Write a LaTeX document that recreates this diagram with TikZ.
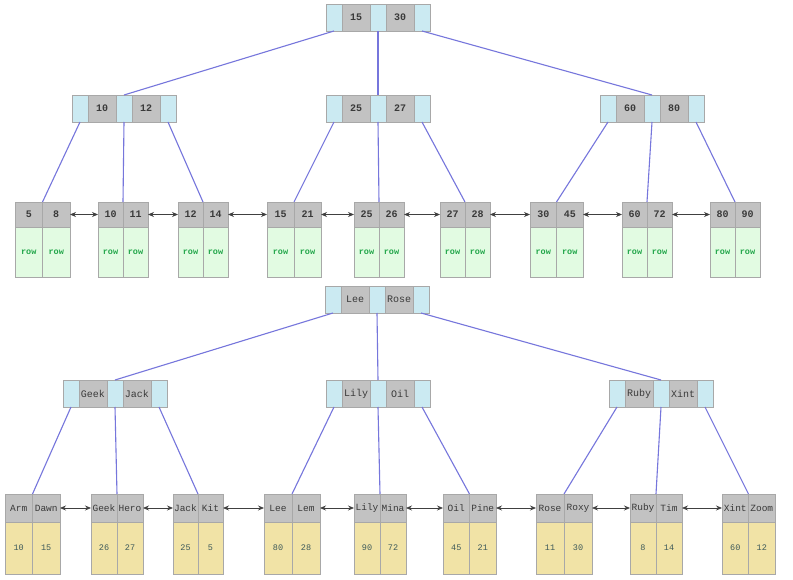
\documentclass[tikz,border=0pt]{standalone}
\usepackage{fontspec}
\setmonofont{Liberation Mono}
\usetikzlibrary{arrows.meta}
\definecolor{ptrblue}{HTML}{CBEAF2}
\definecolor{keygray}{HTML}{C2C2C2}
\definecolor{cellborder}{HTML}{A8A8A8}
\definecolor{rowgreen}{HTML}{E2FBE2}
\definecolor{rowtext}{HTML}{22A64A}
\definecolor{datayellow}{HTML}{F1E3A6}
\definecolor{datatext}{HTML}{3E5A5A}
\definecolor{edgeblue}{HTML}{7676DC}
\definecolor{keytext}{HTML}{3A3A3A}
\definecolor{arrowgray}{HTML}{404040}

% internal node: name, x, y, height, keyA, keyB
\newcommand\inode[6]{%
  \node[pcell,minimum height=#4pt,anchor=north west] (#1-p1) at (#2,#3) {};
  \node[kcell,minimum height=#4pt,anchor=north west] (#1-k1) at (#1-p1.north east) {#5};
  \node[pcell,minimum height=#4pt,anchor=north west] (#1-p2) at (#1-k1.north east) {};
  \node[kcell,minimum height=#4pt,anchor=north west] (#1-k2) at (#1-p2.north east) {#6};
  \node[pcell,minimum height=#4pt,anchor=north west] (#1-p3) at (#1-k2.north east) {};
}
% leaf: name, x, y, cell width, key1, key2, val1, val2
\newcommand\leafnode[8]{%
  \node[lkcell,minimum width=#4pt,anchor=north west] (#1-k1) at (#2,#3) {#5};
  \node[lkcell,minimum width=#4pt,anchor=north west] (#1-k2) at (#1-k1.north east) {#6};
  \node[lvcell,minimum width=#4pt,anchor=north west] (#1-v1) at (#1-k1.south west) {#7};
  \node[lvcell,minimum width=#4pt,anchor=north west] (#1-v2) at (#1-k1.south east) {#8};
}

\begin{document}
\begin{tikzpicture}[x=1pt,y=-1pt,
  cell/.style={rectangle,draw=cellborder,line width=0.8pt,inner sep=0pt,outer sep=0pt},
  pcell/.style={cell,fill=ptrblue,minimum width=16pt},
  kcell/.style={cell,fill=keygray,minimum width=28pt,text=keytext,ikeyfont},
  lkcell/.style={cell,fill=keygray,text=keytext,minimum height=\lhh pt,lkeyfont},
  lvcell/.style={cell,minimum height=\lbh pt,lbody},
  edge/.style={draw=edgeblue,line width=1.1pt},
  leafarrow/.style={draw=arrowgray,line width=0.8pt,{Stealth[length=6pt,width=5pt]}-{Stealth[length=6pt,width=5pt]}},
  ikeyfont/.style={font=\fontsize{10}{12}\selectfont\ttfamily\bfseries},
  lkeyfont/.style={font=\fontsize{10}{12}\selectfont\ttfamily\bfseries},
  lbody/.style={fill=rowgreen,text=rowtext,font=\fontsize{8.5}{10}\selectfont\ttfamily\bfseries}]
\useasboundingbox (0,0) rectangle (793,580);
\fill[white] (0,0) rectangle (793,580);

% ---------------- top tree ----------------
\def\lhh{25}\def\lbh{50}
\inode{t}{326}{4}{27}{15}{30}
\inode{ta}{72}{95}{27}{10}{12}
\inode{tb}{326}{95}{27}{25}{27}
\inode{tc}{600}{95}{27}{60}{80}

\leafnode{l1}{15}{202}{27.5}{5}{8}{row}{row}
\leafnode{l2}{98}{202}{25}{10}{11}{row}{row}
\leafnode{l3}{178}{202}{25}{12}{14}{row}{row}
\leafnode{l4}{267}{202}{27}{15}{21}{row}{row}
\leafnode{l5}{354}{202}{25}{25}{26}{row}{row}
\leafnode{l6}{440}{202}{25}{27}{28}{row}{row}
\leafnode{l7}{530}{202}{26.5}{30}{45}{row}{row}
\leafnode{l8}{622}{202}{25}{60}{72}{row}{row}
\leafnode{l9}{710}{202}{25}{80}{90}{row}{row}

\draw[edge] (t-p1.south) -- (ta-p2.north);
\draw[edge] (t-p2.south) -- (tb-p2.north);
\draw[edge] (t-p3.south) -- (tc-p2.north);
\draw[edge] (ta-p1.south) -- (l1-k1.north east);
\draw[edge] (ta-p2.south) -- (l2-k1.north east);
\draw[edge] (ta-p3.south) -- (l3-k1.north east);
\draw[edge] (tb-p1.south) -- (l4-k1.north east);
\draw[edge] (tb-p2.south) -- (l5-k1.north east);
\draw[edge] (tb-p3.south) -- (l6-k1.north east);
\draw[edge] (tc-p1.south) -- (l7-k1.north east);
\draw[edge] (tc-p2.south) -- (l8-k1.north east);
\draw[edge] (tc-p3.south) -- (l9-k1.north east);

\draw[leafarrow] (l1-k2.east) -- (l2-k1.west);
\draw[leafarrow] (l2-k2.east) -- (l3-k1.west);
\draw[leafarrow] (l3-k2.east) -- (l4-k1.west);
\draw[leafarrow] (l4-k2.east) -- (l5-k1.west);
\draw[leafarrow] (l5-k2.east) -- (l6-k1.west);
\draw[leafarrow] (l6-k2.east) -- (l7-k1.west);
\draw[leafarrow] (l7-k2.east) -- (l8-k1.west);
\draw[leafarrow] (l8-k2.east) -- (l9-k1.west);

% ---------------- bottom tree ----------------
\def\lhh{28}\def\lbh{52}
\tikzset{
  ikeyfont/.style={font=\fontsize{10}{12}\selectfont\ttfamily},
  lkeyfont/.style={font=\fontsize{9.5}{12}\selectfont\ttfamily},
  lbody/.style={fill=datayellow,text=datatext,font=\fontsize{8.5}{10}\selectfont\ttfamily}}
\inode{b}{325}{286}{27}{Lee}{Rose}
\inode{ba}{63}{380}{27}{Geek}{Jack}
\inode{bb}{326}{380}{27}{Lily}{Oil}
\inode{bc}{609}{380}{27}{Ruby}{Xint}

\leafnode{m1}{5}{494}{27.5}{Arm}{Dawn}{10}{15}
\leafnode{m2}{91}{494}{26}{Geek}{Hero}{26}{27}
\leafnode{m3}{173}{494}{25}{Jack}{Kit}{25}{5}
\leafnode{m4}{264}{494}{28}{Lee}{Lem}{80}{28}
\leafnode{m5}{354}{494}{26}{Lily}{Mina}{90}{72}
\leafnode{m6}{443}{494}{26.5}{Oil}{Pine}{45}{21}
\leafnode{m7}{536}{494}{28}{Rose}{Roxy}{11}{30}
\leafnode{m8}{630}{494}{26}{Ruby}{Tim}{8}{14}
\leafnode{m9}{722}{494}{26.5}{Xint}{Zoom}{60}{12}

\draw[edge] (b-p1.south) -- (ba-p2.north);
\draw[edge] (b-p2.south) -- (bb-p2.north);
\draw[edge] (b-p3.south) -- (bc-p2.north);
\draw[edge] (ba-p1.south) -- (m1-k1.north east);
\draw[edge] (ba-p2.south) -- (m2-k1.north east);
\draw[edge] (ba-p3.south) -- (m3-k1.north east);
\draw[edge] (bb-p1.south) -- (m4-k1.north east);
\draw[edge] (bb-p2.south) -- (m5-k1.north east);
\draw[edge] (bb-p3.south) -- (m6-k1.north east);
\draw[edge] (bc-p1.south) -- (m7-k1.north east);
\draw[edge] (bc-p2.south) -- (m8-k1.north east);
\draw[edge] (bc-p3.south) -- (m9-k1.north east);

\draw[leafarrow] (m1-k2.east) -- (m2-k1.west);
\draw[leafarrow] (m2-k2.east) -- (m3-k1.west);
\draw[leafarrow] (m3-k2.east) -- (m4-k1.west);
\draw[leafarrow] (m4-k2.east) -- (m5-k1.west);
\draw[leafarrow] (m5-k2.east) -- (m6-k1.west);
\draw[leafarrow] (m6-k2.east) -- (m7-k1.west);
\draw[leafarrow] (m7-k2.east) -- (m8-k1.west);
\draw[leafarrow] (m8-k2.east) -- (m9-k1.west);
\end{tikzpicture}
\end{document}
